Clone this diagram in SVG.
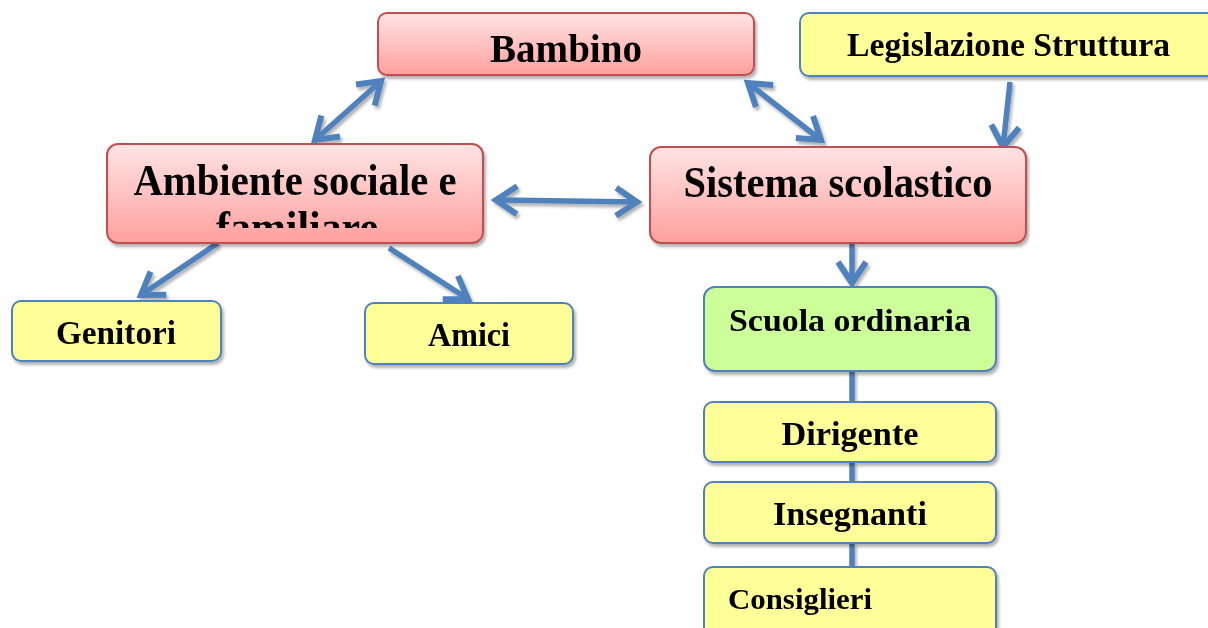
<svg xmlns="http://www.w3.org/2000/svg" width="1208" height="628" viewBox="0 0 1208 628">
<style>
.red{fill:url(#gRed);stroke:#c0504d;stroke-width:2}
.yel{fill:#ffff99;stroke:#4f81bd;stroke-width:2}
.grn{fill:#ccff99;stroke:#4f81bd;stroke-width:2}
.t{font-family:"Liberation Serif","DejaVu Serif",serif;font-weight:bold;fill:#000}
.c{fill:none;stroke:#4f81bd;stroke-width:5.5}
</style>
<defs>
<linearGradient id="gRed" x1="0" y1="0" x2="0" y2="1">
<stop offset="0" stop-color="#ffe4e4"/>
<stop offset="1" stop-color="#ffa09e"/>
</linearGradient>
<filter id="sh" x="-10%" y="-10%" width="130%" height="140%">
<feDropShadow dx="2" dy="3" stdDeviation="1.5" flood-color="#000" flood-opacity="0.3"/>
</filter>
<marker id="ah" viewBox="0 0 34 34" markerUnits="userSpaceOnUse" markerWidth="34" markerHeight="34" refX="27" refY="17" orient="auto-start-reverse">
<path d="M6,3 L27,17 L6,31" fill="none" stroke="#4f81bd" stroke-width="6"/>
</marker>
<clipPath id="clipAmb"><rect x="100" y="140" width="400" height="88"/></clipPath>
</defs>

<g id="connectors" filter="url(#sh)">
<line class="c" x1="381" y1="81" x2="315" y2="140" marker-start="url(#ah)" marker-end="url(#ah)"/>
<line class="c" x1="748" y1="83" x2="821" y2="140" marker-start="url(#ah)" marker-end="url(#ah)"/>
<line class="c" x1="496" y1="200" x2="637" y2="202" marker-start="url(#ah)" marker-end="url(#ah)"/>
<line class="c" x1="1010" y1="82" x2="1003" y2="147" marker-end="url(#ah)"/>
<line class="c" x1="218" y1="243" x2="141" y2="295" marker-end="url(#ah)"/>
<line class="c" x1="389" y1="248" x2="468" y2="299" marker-end="url(#ah)"/>
<line class="c" x1="852" y1="244" x2="852" y2="283" marker-end="url(#ah)"/>
<line class="c" x1="852" y1="371" x2="852" y2="403"/>
<line class="c" x1="852" y1="462" x2="852" y2="483"/>
<line class="c" x1="852" y1="543" x2="852" y2="568"/>
</g>

<g id="bambino" filter="url(#sh)">
<rect class="red" x="378" y="13" width="376" height="62" rx="9"/>
<text class="t" x="566" y="62" font-size="40" text-anchor="middle" textLength="152" lengthAdjust="spacingAndGlyphs">Bambino</text>
</g>

<g id="legislazione" filter="url(#sh)">
<rect class="yel" x="800" y="13" width="420" height="63" rx="9"/>
<text class="t" x="847" y="56" font-size="33" textLength="323" lengthAdjust="spacingAndGlyphs">Legislazione Struttura</text>
</g>

<g id="ambiente" filter="url(#sh)">
<rect class="red" x="107" y="144" width="376" height="99" rx="11"/>
<g clip-path="url(#clipAmb)">
<text class="t" x="295" y="195" font-size="44" text-anchor="middle" textLength="323" lengthAdjust="spacingAndGlyphs">Ambiente sociale e</text>
<text class="t" x="297" y="242" font-size="44" text-anchor="middle" textLength="162" lengthAdjust="spacingAndGlyphs">familiare</text>
</g>
</g>

<g id="sistema" filter="url(#sh)">
<rect class="red" x="650" y="147" width="376" height="96" rx="11"/>
<text class="t" x="838" y="197" font-size="44" text-anchor="middle" textLength="309" lengthAdjust="spacingAndGlyphs">Sistema scolastico</text>
</g>

<g id="genitori" filter="url(#sh)">
<rect class="yel" x="12" y="301" width="209" height="60" rx="9"/>
<text class="t" x="116" y="344" font-size="33" text-anchor="middle" textLength="120" lengthAdjust="spacingAndGlyphs">Genitori</text>
</g>

<g id="amici" filter="url(#sh)">
<rect class="yel" x="365" y="303" width="208" height="61" rx="9"/>
<text class="t" x="469" y="346" font-size="33" text-anchor="middle" textLength="82" lengthAdjust="spacingAndGlyphs">Amici</text>
</g>

<g id="scuola" filter="url(#sh)">
<rect class="grn" x="704" y="287" width="292" height="84" rx="11"/>
<text class="t" x="850" y="331" font-size="31" text-anchor="middle" textLength="242" lengthAdjust="spacingAndGlyphs">Scuola ordinaria</text>
</g>

<g id="dirigente" filter="url(#sh)">
<rect class="yel" x="704" y="402" width="292" height="60" rx="9"/>
<text class="t" x="850" y="445" font-size="33" text-anchor="middle" textLength="137" lengthAdjust="spacingAndGlyphs">Dirigente</text>
</g>

<g id="insegnanti" filter="url(#sh)">
<rect class="yel" x="704" y="482" width="292" height="61" rx="9"/>
<text class="t" x="850" y="525" font-size="33" text-anchor="middle" textLength="154" lengthAdjust="spacingAndGlyphs">Insegnanti</text>
</g>

<g id="consiglieri" filter="url(#sh)">
<rect class="yel" x="704" y="567" width="292" height="70" rx="9"/>
<text class="t" x="728" y="609" font-size="30" textLength="144" lengthAdjust="spacingAndGlyphs">Consiglieri</text>
</g>
</svg>
